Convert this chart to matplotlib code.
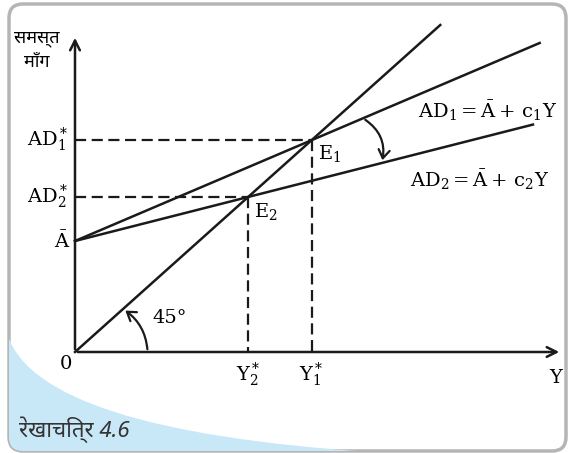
import matplotlib.pyplot as plt
import numpy as np
from matplotlib.patches import FancyArrowPatch, FancyBboxPatch, PathPatch
from matplotlib.path import Path

plt.rcParams['mathtext.fontset'] = 'dejavuserif'
plt.rcParams['font.family'] = ['DejaVu Serif', 'Noto Sans']

# model values
a_bar = 111
c_vals = [0.476, 0.284]          # c1, c2
line_ends = [416, 410]           # where AD1, AD2 stop
diag_end = 327                   # end of the 45 degree line
y_axis_top = 317
x_axis_end = 436
y_star = [a_bar / (1 - c) for c in c_vals]   # Y1*, Y2*

# px -> data helpers for the layout
SX = 1.117
def dx(px): return (px - 75) / SX
def dy(py): return 352 - py

fig = plt.figure(figsize=(5.70, 4.53), dpi=100)

# decoration layer in pixel coordinates
deco = fig.add_axes([0, 0, 1, 1])
deco.set_xlim(0, 570)
deco.set_ylim(453, 0)
deco.axis('off')
frame = FancyBboxPatch((9, 4), 557, 447, boxstyle='round,pad=0,rounding_size=14',
                       fc='white', ec='#b5b5b5', lw=2.5, zorder=1)
deco.add_patch(frame)
# light blue swoosh in the lower left corner
verts = [(8, 336), (40, 430), (370, 452), (566, 456), (566, 460), (8, 460), (8, 336)]
codes = [Path.MOVETO, Path.CURVE3, Path.CURVE3, Path.LINETO, Path.LINETO,
         Path.LINETO, Path.CLOSEPOLY]
swoosh = PathPatch(Path(verts, codes), fc='#c8e8f8', ec='none', zorder=2)
deco.add_patch(swoosh)
swoosh.set_clip_path(frame)
deco.text(19, 430, 'रेखाचित्र 4.6', fontsize=16, style='italic', color='#333333',
          ha='left', va='center', family=['Noto Sans', 'DejaVu Sans'], zorder=3)

# main chart
ax = fig.add_axes([0, 0, 1, 1])
ax.patch.set_alpha(0)
ax.set_xlim(dx(0), dx(570))
ax.set_ylim(dy(453), dy(0))
ax.axis('off')

lw = 1.8
ax.annotate('', xy=(0, y_axis_top), xytext=(0, 0),
            arrowprops=dict(arrowstyle='->,head_length=0.7,head_width=0.35', lw=lw, color='#1a1a1a'))
ax.annotate('', xy=(x_axis_end, 0), xytext=(0, 0),
            arrowprops=dict(arrowstyle='->,head_length=0.7,head_width=0.35', lw=lw, color='#1a1a1a'))

xs = np.array([0, diag_end])
ax.plot(xs, xs, color='#1a1a1a', lw=lw)
for c, xe in zip(c_vals, line_ends):
    ax.plot([0, xe], [a_bar, a_bar + c * xe], color='#1a1a1a', lw=lw)

for ys in y_star:
    ax.plot([0, ys], [ys, ys], color='#1a1a1a', lw=1.6, dashes=(5, 2.5))
    ax.plot([ys, ys], [ys, 0], color='#1a1a1a', lw=1.6, dashes=(5, 2.5))

# 45 degree arc
ax.add_patch(FancyArrowPatch((65, 0), (43, 43), connectionstyle='arc3,rad=0.25',
                             arrowstyle='->,head_length=6,head_width=4', lw=1.6, color='#1a1a1a'))
# rotation arc from AD1 to AD2
pa = (257.8, a_bar + c_vals[0] * 257.8)
pb = (274.8, a_bar + c_vals[1] * 274.8)
ax.add_patch(FancyArrowPatch(pa, pb, connectionstyle='arc3,rad=-0.35',
                             arrowstyle='->,head_length=6,head_width=4', lw=1.6, color='#1a1a1a'))

fs = 14
ax.text(dx(68), y_star[0], r'$\mathrm{AD}_1^*$', fontsize=fs, ha='right', va='center')
ax.text(dx(68), y_star[1], r'$\mathrm{AD}_2^*$', fontsize=fs, ha='right', va='center')
ax.text(dx(70), a_bar, r'$\bar{\mathrm{A}}$', fontsize=fs, ha='right', va='center')
ax.text(dx(66), dy(364), '0', fontsize=fs, ha='center', va='center')
ax.text(y_star[1], dy(375), r'$\mathrm{Y}_2^*$', fontsize=fs, ha='center', va='center')
ax.text(y_star[0], dy(375), r'$\mathrm{Y}_1^*$', fontsize=fs, ha='center', va='center')
ax.text(dx(556), dy(378), 'Y', fontsize=fs, ha='center', va='center')
ax.text(dx(318), dy(154), r'$\mathrm{E}_1$', fontsize=fs, ha='left', va='center')
ax.text(dx(254), dy(212), r'$\mathrm{E}_2$', fontsize=fs, ha='left', va='center')
ax.text(dx(152), dy(318), '45°', fontsize=fs, ha='left', va='center')
ax.text(dx(488), dy(111), r'$\mathrm{AD}_1 = \bar{\mathrm{A}} + \,\mathrm{c}_1\mathrm{Y}$',
        fontsize=fs, ha='center', va='center')
ax.text(dx(480), dy(180), r'$\mathrm{AD}_2 = \bar{\mathrm{A}} + \,\mathrm{c}_2\mathrm{Y}$',
        fontsize=fs, ha='center', va='center')
ax.text(dx(37), dy(38), 'समस्त', fontsize=13, ha='center', va='center',
        family=['Noto Sans', 'DejaVu Sans'])
ax.text(dx(37), dy(62), 'माँग', fontsize=13, ha='center', va='center',
        family=['Noto Sans', 'DejaVu Sans'])

fig.savefig('out.png', dpi=100)
